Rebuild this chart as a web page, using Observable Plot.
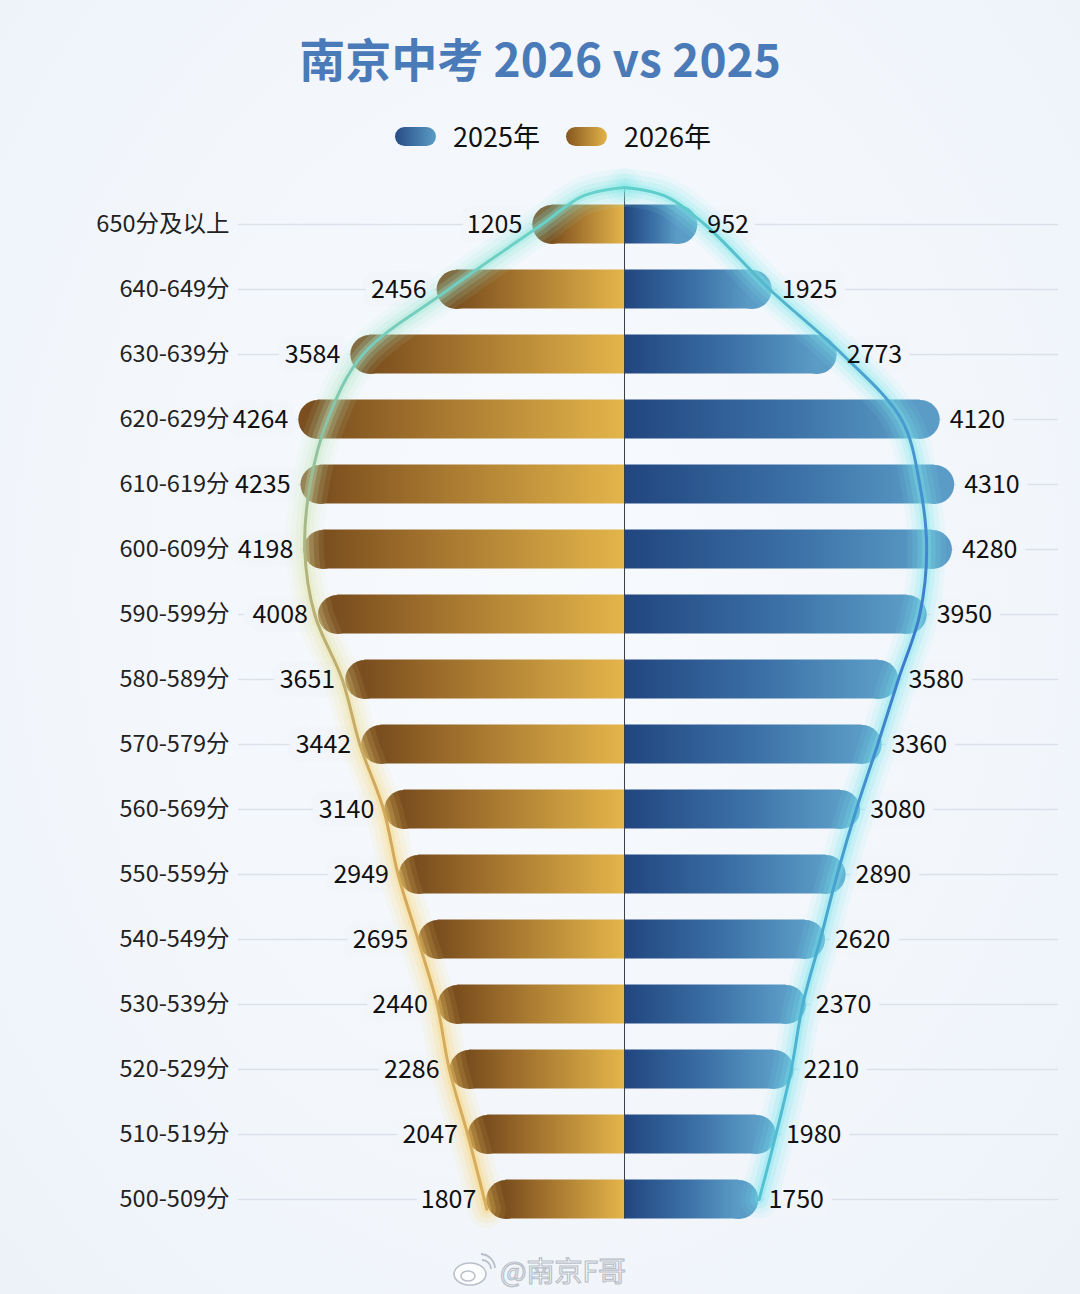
<!DOCTYPE html>
<html>
<head>
<meta charset="utf-8">
<script src="https://cdn.jsdelivr.net/npm/d3@7"></script>
<script src="https://cdn.jsdelivr.net/npm/@observablehq/plot@0.6"></script>
<style>
  html, body { margin: 0; padding: 0; }
  body {
    width: 1080px; height: 1294px; position: relative; overflow: hidden;
    background: radial-gradient(ellipse at 50% 45%, #f7fafd 0%, #f2f6fb 65%, #edf2f8 100%);
    font-family: "Noto Sans CJK SC", "Noto Sans", sans-serif;
  }
  #title {
    position: absolute; top: 24px; left: 0; width: 1080px; text-align: center;
    font-size: 46px; font-weight: 700; color: #4a7bb8; line-height: 66px;
  }
  #legend { position: absolute; top: 116px; left: 395px; display: flex; align-items: center; font-size: 27px; color: #111; line-height: 40px; }
  .pill { width: 41px; height: 19px; border-radius: 10px; margin-right: 17px; }
  .pill.blue { background: linear-gradient(90deg, #274c86, #5b9cc6); }
  .pill.gold { background: linear-gradient(90deg, #84561e, #e3b449); }
  .item { display: flex; align-items: center; margin-right: 26px; }
  #chart { position: absolute; top: 170px; left: 0; }
  #mark { position: absolute; left: 452px; top: 1250px; display: flex; align-items: center; }
  #mark span { font-size: 28px; color: rgba(255,255,255,0.85); -webkit-text-stroke: 1.2px #b9bec7; margin-left: 4px; }
</style>
</head>
<body>
<svg width="0" height="0" style="position:absolute">
  <defs>
    <linearGradient id="goldBar" x1="0" x2="1" y1="0" y2="0">
      <stop offset="0" stop-color="#7a4e1e"/>
      <stop offset="0.3" stop-color="#9c6d2b"/>
      <stop offset="1" stop-color="#e4b54a"/>
    </linearGradient>
    <linearGradient id="blueBar" x1="0" x2="1" y1="0" y2="0">
      <stop offset="0" stop-color="#21457f"/>
      <stop offset="0.55" stop-color="#3b70a6"/>
      <stop offset="1" stop-color="#5b9cc6"/>
    </linearGradient>
    <linearGradient id="edgeLeft" gradientUnits="userSpaceOnUse" x1="0" y1="17" x2="0" y2="1040">
      <stop offset="0" stop-color="#66d2cb"/>
      <stop offset="0.18" stop-color="#7ccbb8"/>
      <stop offset="0.38" stop-color="#b4b27a"/>
      <stop offset="0.6" stop-color="#d2a85c"/>
      <stop offset="1" stop-color="#d8ad5e"/>
    </linearGradient>
    <linearGradient id="edgeRight" gradientUnits="userSpaceOnUse" x1="0" y1="17" x2="0" y2="1040">
      <stop offset="0" stop-color="#5fcfca"/>
      <stop offset="0.2" stop-color="#4a9fd0"/>
      <stop offset="0.45" stop-color="#3d78cc"/>
      <stop offset="0.7" stop-color="#49a6cf"/>
      <stop offset="1" stop-color="#55c4d2"/>
    </linearGradient>
    <linearGradient id="glowLeft" gradientUnits="userSpaceOnUse" x1="0" y1="17" x2="0" y2="1040">
      <stop offset="0" stop-color="#7fe6e2"/>
      <stop offset="0.35" stop-color="#d8e6b0"/>
      <stop offset="0.6" stop-color="#f8d77a"/>
      <stop offset="1" stop-color="#f6cf68"/>
    </linearGradient>
    <linearGradient id="glowRight" gradientUnits="userSpaceOnUse" x1="0" y1="17" x2="0" y2="1040">
      <stop offset="0" stop-color="#7fe8ea"/>
      <stop offset="1" stop-color="#70e2ec"/>
    </linearGradient>
  </defs>
</svg>

<div id="title">南京中考 2026 vs 2025</div>
<div id="legend">
  <div class="item"><div class="pill blue"></div>2025年</div>
  <div class="item"><div class="pill gold"></div>2026年</div>
</div>
<div id="chart"></div>
<div id="mark">
  <svg width="44" height="36" viewBox="0 0 44 36">
    <ellipse cx="18" cy="22" rx="16" ry="11" fill="rgba(255,255,255,0.8)" stroke="#b9bec7" stroke-width="1.5"/>
    <ellipse cx="16" cy="24" rx="7" ry="5" fill="none" stroke="#b9bec7" stroke-width="1.5"/>
    <path d="M30 8 a9 9 0 0 1 9 9" fill="none" stroke="#b9bec7" stroke-width="1.8"/>
    <path d="M29 2 a15 15 0 0 1 14 14" fill="none" stroke="#b9bec7" stroke-width="1.8"/>
  </svg>
  <span>@南京F哥</span>
</div>

<script>
// Score bands, top to bottom
const bands = ["650分及以上", "640-649分", "630-639分", "620-629分", "610-619分", "600-609分",
  "590-599分", "580-589分", "570-579分", "560-569分", "550-559分", "540-549分",
  "530-539分", "520-529分", "510-519分", "500-509分"];

// Number of students per band
const count2026 = [1205, 2456, 3584, 4264, 4235, 4198, 4008, 3651, 3442, 3140, 2949, 2695, 2440, 2286, 2047, 1807];
const count2025 = [952, 1925, 2773, 4120, 4310, 4280, 3950, 3580, 3360, 3080, 2890, 2620, 2370, 2210, 1980, 1750];

// Smoothed outline that wraps the bars (same units as the counts)
const outline2026 = [1080, 2300, 3420, 3880, 4110, 4180, 4050, 3690, 3460, 3150, 2960, 2700, 2450, 2290, 2050, 1800];
const outline2025 = [1050, 1900, 2850, 3620, 3860, 3950, 3860, 3580, 3310, 3030, 2780, 2560, 2330, 2180, 1980, 1760];

const rows = bands.map((band, i) => ({ i, band, v26: count2026[i], v25: count2025[i] }));

// Outline: up each side to a rounded crown above the first band
const crownY = -0.57, shoulderY = -0.44;
const leftEdge = [
  ...outline2026.map((v, i) => ({ x: -v, y: i === 15 ? 15.15 : i })).reverse(),
  { x: -outline2026[0] / 2, y: shoulderY },
  { x: 0, y: crownY }
];
const rightEdge = [
  { x: 0, y: crownY },
  { x: outline2025[0] / 2, y: shoulderY },
  ...outline2025.map((v, i) => ({ x: v, y: i }))
];

const BG = "#f2f6fb";
const R = 19.5; // bar end radius in px
const font = "'Noto Sans CJK SC', 'Noto Sans', sans-serif";

// soft halo around the outline: stacked wide, faint strokes
const glowLayers = [[38, 0.09], [28, 0.13], [18, 0.19], [9, 0.3]];
const glow = (data, stroke) => glowLayers.map(([w, o]) =>
  Plot.line(data, { x: "x", y: "y", curve: "catmull-rom", stroke, strokeWidth: w, strokeOpacity: o, strokeLinecap: "round" }));

const chart = Plot.plot({
  width: 1080,
  height: 1100,
  marginLeft: 238,
  marginRight: 22,
  marginTop: 0,
  marginBottom: 0,
  // one student ≈ 0.0765 px; zero sits at x = 624
  x: { domain: [-5046, 5673], axis: null },
  y: { domain: [0, 15], range: [54, 1029], axis: null },
  style: { background: "transparent", fontFamily: font, overflow: "visible" },
  marks: [
    // guide lines
    Plot.ruleY(rows, { y: "i", stroke: "#dce1e9", strokeWidth: 1.6 }),
    // halos that cut the guide lines around the labels
    Plot.text(rows, { x: d => -d.v26, y: "i", text: d => String(d.v26), textAnchor: "end", dx: -10, fontSize: 25,
      fill: BG, stroke: BG, strokeWidth: 18, paintOrder: "stroke" }),
    Plot.text(rows, { x: d => d.v25, y: "i", text: d => String(d.v25), textAnchor: "start", dx: 10, fontSize: 25,
      fill: BG, stroke: BG, strokeWidth: 18, paintOrder: "stroke" }),
    // 2026 bars (left), rounded outer end
    Plot.dot(rows, { x: d => -d.v26, y: "i", dx: R, r: R, fill: "#7a4e1e", stroke: null }),
    Plot.rect(rows, { x1: d => -d.v26, x2: 0, y1: d => d.i - 0.3, y2: d => d.i + 0.3, insetLeft: R, fill: "url(#goldBar)" }),
    // 2025 bars (right)
    Plot.dot(rows, { x: d => d.v25, y: "i", dx: -R, r: R, fill: "#5b9cc6", stroke: null }),
    Plot.rect(rows, { x1: 0, x2: d => d.v25, y1: d => d.i - 0.3, y2: d => d.i + 0.3, insetRight: R, fill: "url(#blueBar)" }),
    // centre axis
    Plot.ruleX([0], { y1: crownY, y2: 15.3, stroke: "#3a3f48", strokeWidth: 1 }),
    // outline glow
    ...glow(leftEdge, "url(#glowLeft)"),
    ...glow(rightEdge, "url(#glowRight)"),
    // outline
    Plot.line(leftEdge, { x: "x", y: "y", curve: "catmull-rom", stroke: "url(#edgeLeft)", strokeWidth: 3 }),
    Plot.line(rightEdge, { x: "x", y: "y", curve: "catmull-rom", stroke: "url(#edgeRight)", strokeWidth: 3 }),
    // band labels
    Plot.text(rows, { y: "i", text: "band", frameAnchor: "left", textAnchor: "end", dx: -9, fontSize: 23.5, fill: "#222" }),
    // value labels
    Plot.text(rows, { x: d => -d.v26, y: "i", text: d => String(d.v26), textAnchor: "end", dx: -10, fontSize: 25, fill: "#111" }),
    Plot.text(rows, { x: d => d.v25, y: "i", text: d => String(d.v25), textAnchor: "start", dx: 10, fontSize: 25, fill: "#111" })
  ]
});

document.getElementById("chart").appendChild(chart);
</script>
</body>
</html>
